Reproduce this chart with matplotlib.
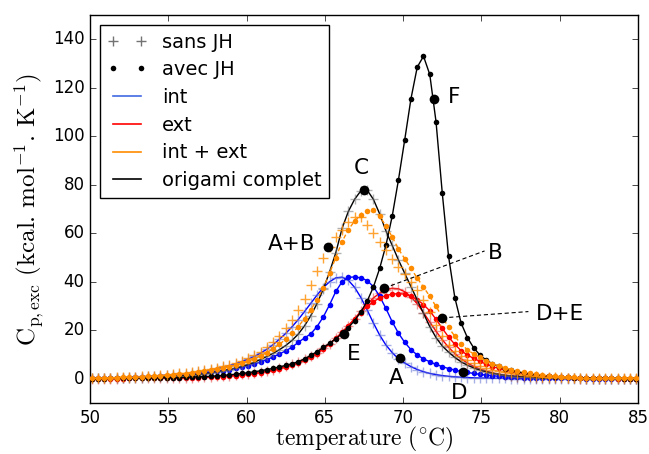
import numpy as np
import matplotlib
matplotlib.use("Agg")
import matplotlib.pyplot as plt
from matplotlib.lines import Line2D

plt.style.use('classic')
plt.rcParams['mathtext.fontset'] = 'cm'
plt.rcParams['font.family'] = ['DejaVu Sans']

# temperature grid (°C)
temperature = np.round(np.arange(50.1, 85.0, 0.4), 2)

int_sans = [0.2,0.2,0.3,0.3,0.4,0.5,0.6,0.7,0.8,1.0,
            1.1,1.3,1.5,1.7,1.9,2.1,2.3,2.7,3.1,3.6,
            4.1,4.7,5.4,6.2,7.1,8.1,9.2,10.6,12.2,14.1,
            16.3,18.7,21.4,24.4,27.7,31.1,34.5,37.6,40.0,41.6,
            41.9,40.6,37.7,33.5,28.4,23.0,18.0,13.9,10.8,8.2,
            6.5,5.0,3.8,2.9,2.2,1.7,1.3,1.0,0.8,0.6,
            0.5,0.4,0.3,0.3,0.2,0.2,0.2,0.1,0.1,0.1,
            0.1,0.1,0.1,0.1,0.1,0.1,0.1,0.1,0.1,0.1,
            0.1,0.1,0.1,0.1,0.1,0.1,0.1,0.1]
int_avec = [0.2,0.2,0.3,0.3,0.4,0.4,0.5,0.6,0.7,0.8,
            0.9,1.0,1.1,1.3,1.5,1.7,1.9,2.2,2.5,2.8,
            3.1,3.4,3.8,4.3,4.8,5.4,6.1,6.9,7.9,9.0,
            10.2,11.5,13.0,15.0,16.8,18.5,21.5,25.5,30.5,36.0,
            40.0,41.8,42.0,41.6,40.5,38.0,34.0,29.0,23.5,18.8,
            15.0,12.0,9.8,8.2,7.0,5.9,5.0,4.2,3.6,3.0,
            2.6,2.2,1.8,1.5,1.3,1.0,0.9,0.7,0.6,0.5,
            0.4,0.4,0.3,0.3,0.3,0.2,0.2,0.2,0.2,0.1,
            0.1,0.1,0.1,0.1,0.1,0.1,0.1,0.1]
ext_sans = [0.1,0.1,0.1,0.1,0.1,0.2,0.2,0.2,0.2,0.2,
            0.3,0.3,0.3,0.4,0.4,0.5,0.5,0.6,0.7,0.8,
            1.0,1.1,1.3,1.5,1.8,2.1,2.4,2.8,3.3,3.8,
            4.4,5.1,5.9,6.9,8.0,9.3,10.8,12.5,14.5,16.7,
            19.2,21.9,24.8,27.8,30.7,33.3,35.3,36.7,37.3,37.1,
            35.9,33.8,30.9,27.3,23.4,19.6,16.1,13.0,10.4,8.2,
            6.5,5.1,4.0,3.1,2.4,1.9,1.5,1.2,0.9,0.7,
            0.6,0.5,0.4,0.3,0.3,0.2,0.2,0.2,0.1,0.1,
            0.1,0.1,0.1,0.1,0.1,0.1,0.1,0.1]
ext_avec = [0.1,0.1,0.1,0.1,0.1,0.1,0.2,0.2,0.2,0.2,
            0.2,0.2,0.3,0.3,0.3,0.4,0.4,0.5,0.6,0.7,
            0.8,0.9,1.1,1.3,1.5,1.8,2.1,2.5,3.0,3.5,
            4.1,4.8,5.6,6.5,7.6,8.9,10.4,12.2,14.3,16.6,
            19.1,21.8,24.6,27.3,29.8,31.8,33.3,34.3,34.9,35.1,
            34.9,34.0,32.6,30.6,28.0,24.5,20.8,17.2,14.2,11.6,
            9.8,8.4,7.2,6.0,5.0,4.3,3.7,3.1,2.6,2.2,
            1.8,1.5,1.2,1.0,0.8,0.7,0.6,0.5,0.4,0.3,
            0.3,0.2,0.2,0.2,0.1,0.1,0.1,0.1]
sum_sans = [0.4,0.4,0.5,0.5,0.6,0.7,0.8,0.9,1.0,1.2,
            1.3,1.5,1.7,1.9,2.2,2.5,2.8,3.2,3.6,4.1,
            4.6,5.2,5.8,6.5,7.5,8.6,9.8,11.2,13.0,15.2,
            17.8,20.8,24.3,28.2,33.0,38.5,44.5,50.0,54.5,58.5,
            61.5,64.5,66.5,66.5,63.5,60.0,56.5,53.0,49.5,46.0,
            43.0,39.8,36.5,32.5,27.5,22.0,17.5,14.0,11.3,9.2,
            7.6,6.3,5.3,4.5,3.8,3.2,2.7,2.3,1.9,1.6,
            1.3,1.1,0.9,0.8,0.7,0.6,0.5,0.45,0.4,0.35,
            0.3,0.3,0.25,0.25,0.2,0.2,0.2,0.2]
sum_avec = [0.3,0.3,0.4,0.4,0.5,0.6,0.7,0.8,0.9,1.0,
            1.2,1.3,1.5,1.7,1.9,2.1,2.4,2.7,3.1,3.5,
            3.9,4.4,5.0,5.6,6.3,7.2,8.2,9.4,10.8,12.4,
            14.2,16.3,18.7,21.5,24.8,28.5,32.5,37.5,43.5,50.0,
            56.5,61.5,65.0,67.5,69.0,69.5,67.0,63.0,58.5,53.5,
            49.5,45.5,41.5,37.8,34.0,29.8,25.5,21.2,17.5,14.3,
            12.0,10.2,8.8,7.4,6.2,5.3,4.5,3.8,3.2,2.7,
            2.2,1.9,1.5,1.3,1.1,0.9,0.8,0.6,0.5,0.45,
            0.4,0.35,0.3,0.3,0.25,0.2,0.2,0.2]
ori_sans = [0.2,0.2,0.25,0.3,0.3,0.35,0.4,0.45,0.5,0.6,
            0.7,0.8,0.9,1.0,1.1,1.3,1.5,1.7,2.0,2.4,
            2.8,3.3,3.8,4.4,5.1,5.9,6.8,8.0,9.2,10.5,
            12.0,13.7,15.8,18.4,21.8,26.0,31.0,37.0,44.0,52.0,
            62.0,69.0,74.0,77.5,77.8,74.0,68.0,61.0,55.0,49.0,
            43.5,38.0,32.5,27.0,21.5,17.0,13.5,11.0,8.8,7.0,
            5.6,4.5,3.6,2.9,2.3,1.8,1.4,1.1,0.9,0.7,
            0.55,0.45,0.35,0.3,0.25,0.2,0.2,0.15,0.15,0.1,
            0.1,0.1,0.1,0.1,0.1,0.1,0.1,0.1]
ori_avec = [0.1,0.1,0.1,0.2,0.2,0.2,0.2,0.3,0.3,0.3,
            0.4,0.4,0.4,0.5,0.5,0.6,0.7,0.8,0.9,1.0,
            1.2,1.4,1.6,1.9,2.2,2.5,2.9,3.3,3.8,4.3,
            4.9,5.5,6.2,7.0,8.2,9.6,11.2,12.9,14.6,16.5,
            18.6,21.1,24.0,27.6,32.0,37.8,45.5,55.0,67.0,82.0,
            98.5,115.5,128.5,133.0,125.5,106.0,76.5,50.5,33.5,23.0,
            17.0,12.8,9.8,7.7,6.2,5.1,4.2,3.5,2.9,2.4,
            2.0,1.6,1.3,1.1,0.9,0.7,0.6,0.5,0.4,0.35,
            0.3,0.25,0.2,0.2,0.15,0.1,0.1,0.1]

# annotated points
ann_labels = ['A+B', 'C', 'E', 'B', 'A', 'D', 'D+E', 'F']
ann_x = [65.2, 67.5, 66.25, 68.8, 69.8, 73.8, 72.5, 72.0]
ann_y = [54.3, 77.8, 18.3, 37.4, 8.6, 2.9, 25.1, 115.3]
lab_x = [62.9, 67.35, 66.84, 75.86, 69.57, 73.57, 79.99, 73.25]
lab_y = [55.6, 86.8, 10.3, 51.9, 0.4, -5.8, 26.7, 116.0]
leader_end = {'B': (75.2, 52.7), 'D+E': (78.0, 27.7)}

fig = plt.figure(figsize=(6.49, 4.54), dpi=100, facecolor='white')
ax = fig.add_axes([90/649, 1-403/454, 548/649, 388/454])
ax.set_facecolor('white')

orange = '#ff8c00'
plus_kw = dict(marker='+', markersize=7, mew=1.0, alpha=0.55)
dot_kw = dict(marker='o', markersize=4, mew=0)

ax.plot(temperature, int_sans, color='b', lw=1.0, zorder=2)
ax.plot(temperature, int_sans, ls='none', color='#6070d0', **plus_kw, zorder=2)
ax.plot(temperature, int_avec, color='b', lw=1.0, **dot_kw, zorder=3)

ax.plot(temperature, ext_sans, color='r', lw=1.0, zorder=2)
ax.plot(temperature, ext_sans, ls='none', color='#e04040', **plus_kw, zorder=2)
ax.plot(temperature, ext_avec, color='r', lw=1.0, **dot_kw, zorder=3)

ax.plot(temperature, ori_sans, color='k', lw=1.0, zorder=4)
ax.plot(temperature, ori_sans, ls='none', color='0.45', **plus_kw, zorder=4)
ax.plot(temperature, ori_avec, color='k', lw=1.0, **dot_kw, zorder=4)

ax.plot(temperature, sum_sans, ls='none', color=orange, marker='+', markersize=7, mew=1.0, alpha=0.8, zorder=5)
ax.plot(temperature, sum_avec, color=orange, lw=1.0, ls='--', dashes=(3, 2), **dot_kw, zorder=5)

for lab, x, y, tx, ty in zip(ann_labels, ann_x, ann_y, lab_x, lab_y):
    ax.plot([x], [y], 'o', color='k', markersize=7, mew=0, zorder=7)
    if lab in leader_end:
        ex, ey = leader_end[lab]
        ax.plot([x, ex], [y, ey], color='k', lw=0.8, ls='--', dashes=(3, 2), zorder=6)
    ax.text(tx, ty, lab, fontsize=15.5, ha='center', va='center', zorder=8)

ax.set_xlim(50, 85)
ax.set_ylim(-10, 150)
ax.set_xticks([50, 55, 60, 65, 70, 75, 80, 85])
ax.set_yticks([0, 20, 40, 60, 80, 100, 120, 140])
ax.tick_params(labelsize=12)
ax.set_xlabel(r'$\mathrm{temperature\ (^{\circ}C)}$', fontsize=17, labelpad=-1)
ax.set_ylabel(r'$\mathrm{C_{p,exc}\ (kcal.\,mol^{-1}.\,K^{-1})}$', fontsize=18)

handles = [
    Line2D([], [], ls='none', marker='+', color='k', alpha=0.55, markersize=7, mew=1.0),
    Line2D([], [], ls='none', marker='o', color='k', markersize=4, mew=0),
    Line2D([], [], color='royalblue', lw=1.2),
    Line2D([], [], color='r', lw=1.2),
    Line2D([], [], color=orange, lw=1.2),
    Line2D([], [], color='k', lw=1.2),
]
labels = ['sans JH', 'avec JH', 'int', 'ext', 'int + ext', 'origami complet']
leg = ax.legend(handles, labels, loc='upper left', fontsize=14, numpoints=2,
                borderaxespad=0.5, labelspacing=0.45)
leg.get_frame().set_linewidth(1.0)

fig.savefig('out.png', dpi=100, facecolor='white')
